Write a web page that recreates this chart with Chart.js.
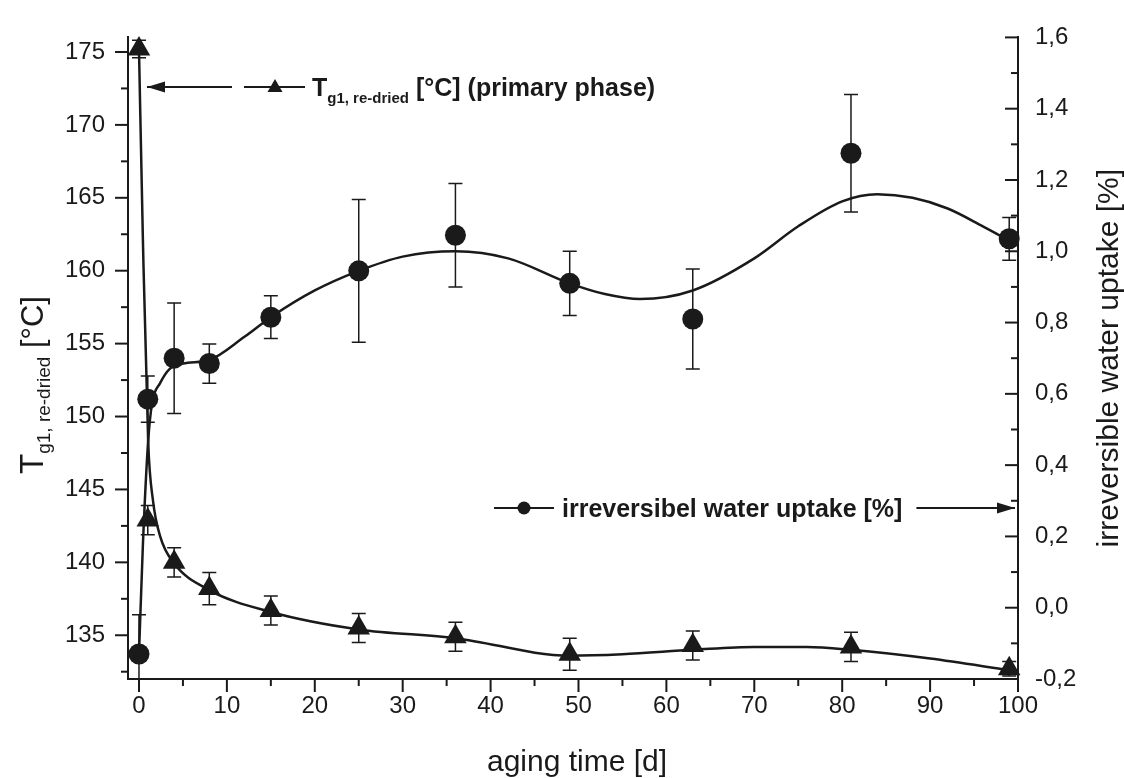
<!DOCTYPE html>
<html>
<head>
<meta charset="utf-8">
<script src="https://cdn.jsdelivr.net/npm/chart.js@4.4.1/dist/chart.umd.min.js"></script>
<style>
  html, body { margin: 0; background: #fff; }
  #wrap { width: 1124px; height: 778px; }
</style>
</head>
<body>
<div id="wrap"><canvas id="chart" width="1124" height="778"></canvas></div>
<script>
// measured points
const days = [0, 1, 4, 8, 15, 25, 36, 49, 63, 81, 99];
const tgValues = [175.2, 142.9, 140.0, 138.2, 136.7, 135.5, 134.9, 133.7, 134.3, 134.2, 132.7];
const tgErrors = [0.6, 1.0, 1.0, 1.1, 1.0, 1.0, 1.0, 1.1, 1.0, 1.0, 0.5];
const waterValues = [-0.13, 0.585, 0.70, 0.685, 0.815, 0.945, 1.045, 0.91, 0.81, 1.275, 1.035];
const waterErrors = [0.11, 0.065, 0.155, 0.055, 0.06, 0.2, 0.145, 0.09, 0.14, 0.165, 0.06];

// smoothed fit curves
const tgFitDays = [0, 0.45, 1.05, 1.6, 2.4, 3.9, 8, 15, 25, 36, 49, 55, 63, 70, 76, 81, 90, 99];
const tgFitValues = [175.2, 162, 148.2, 144.2, 141.8, 140.0, 138.1, 136.6, 135.4, 134.8, 133.6, 133.7, 134.0, 134.2, 134.2, 134.0, 133.4, 132.6];
const waterFitDays = [0, 0.45, 1.05, 1.5, 2.4, 3.5, 5, 8, 12, 15, 20, 25, 30, 36, 42, 49, 53, 57, 63, 70, 75, 80, 84, 88, 92, 96, 99];
const waterFitValues = [-0.13, 0.18, 0.47, 0.575, 0.63, 0.67, 0.685, 0.695, 0.76, 0.815, 0.89, 0.945, 0.985, 1.0, 0.98, 0.91, 0.88, 0.866, 0.89, 0.98, 1.07, 1.14, 1.16, 1.15, 1.12, 1.07, 1.03];

// axis ticks
const dayTicks = [0, 10, 20, 30, 40, 50, 60, 70, 80, 90, 100];
const tgTicks = [135, 140, 145, 150, 155, 160, 165, 170, 175];
const waterTicks = [-0.2, 0, 0.2, 0.4, 0.6, 0.8, 1.0, 1.2, 1.4, 1.6];

const INK = '#1a1a1a';
const FONT = '"Liberation Sans", Arial, Helvetica, sans-serif';

const pts = (xs, ys) => xs.map((x, i) => ({ x, y: ys[i] }));
const mids = arr => arr.slice(1).map((v, i) => (v + arr[i]) / 2);

function drawArrow(ctx, x1, y, x2) {
  ctx.beginPath();
  ctx.moveTo(x1, y);
  ctx.lineTo(x2, y);
  ctx.stroke();
  const d = Math.sign(x2 - x1);
  ctx.beginPath();
  ctx.moveTo(x2, y);
  ctx.lineTo(x2 - d * 18, y - 5.5);
  ctx.lineTo(x2 - d * 18, y + 5.5);
  ctx.closePath();
  ctx.fill();
}

function richWidth(ctx, parts) {
  return parts.reduce((w, p) => { ctx.font = p.font; return w + ctx.measureText(p.t).width; }, 0);
}

function drawRich(ctx, parts, x, y) {
  parts.forEach(p => {
    ctx.font = p.font;
    ctx.fillText(p.t, x, y + (p.dy || 0));
    x += ctx.measureText(p.t).width;
  });
  return x;
}

const errorBars = {
  id: 'errorBars',
  beforeDatasetsDraw(chart) {
    const { ctx, chartArea, scales } = chart;
    ctx.save();
    ctx.beginPath();
    ctx.rect(chartArea.left, chartArea.top, chartArea.width, chartArea.height);
    ctx.clip();
    ctx.strokeStyle = INK;
    ctx.lineWidth = 1.5;
    chart.data.datasets.forEach(ds => {
      if (!ds.err) return;
      const ys = scales[ds.yAxisID];
      ds.data.forEach((p, i) => {
        const x = scales.x.getPixelForValue(p.x);
        const y1 = ys.getPixelForValue(p.y - ds.err[i]);
        const y2 = ys.getPixelForValue(p.y + ds.err[i]);
        ctx.beginPath();
        ctx.moveTo(x, y1); ctx.lineTo(x, y2);
        ctx.moveTo(x - 7, y1); ctx.lineTo(x + 7, y1);
        ctx.moveTo(x - 7, y2); ctx.lineTo(x + 7, y2);
        ctx.stroke();
      });
    });
    ctx.restore();
  }
};

const decorations = {
  id: 'decorations',
  afterDraw(chart) {
    const { ctx, chartArea, scales } = chart;
    const { x: xs, yL, yR } = scales;
    ctx.save();
    ctx.strokeStyle = INK;
    ctx.fillStyle = INK;
    ctx.lineWidth = 2;

    // tick marks: major 13px, minor 7px
    const tick = (vals, len, fn) => vals.forEach(v => { ctx.beginPath(); fn(v, len); ctx.stroke(); });
    const bottomTick = (v, len) => { const p = xs.getPixelForValue(v); ctx.moveTo(p, chartArea.bottom); ctx.lineTo(p, chartArea.bottom + len); };
    const leftTick = (v, len) => { const p = yL.getPixelForValue(v); ctx.moveTo(chartArea.left, p); ctx.lineTo(chartArea.left - len, p); };
    const rightTick = (v, len) => { const p = yR.getPixelForValue(v); ctx.moveTo(chartArea.right, p); ctx.lineTo(chartArea.right - len, p); };
    tick(dayTicks, 13, bottomTick);
    tick(mids(dayTicks), 7, bottomTick);
    tick(tgTicks, 13, leftTick);
    tick([132.5].concat(mids(tgTicks)), 7, leftTick);
    tick(waterTicks, 13, rightTick);
    tick(mids(waterTicks), 7, rightTick);

    // axis titles
    ctx.textBaseline = 'alphabetic';
    ctx.textAlign = 'left';
    ctx.font = '30px ' + FONT;
    const xt = 'aging time [d]';
    ctx.fillText(xt, (chartArea.left + chartArea.right) / 2 - ctx.measureText(xt).width / 2 + 4, 771);

    const leftTitle = [
      { t: 'T', font: '33px ' + FONT },
      { t: 'g1, re-dried', font: '19px ' + FONT, dy: 7 },
      { t: ' [°C]', font: '31px ' + FONT }
    ];
    ctx.save();
    ctx.translate(43, 385);
    ctx.rotate(-Math.PI / 2);
    drawRich(ctx, leftTitle, -richWidth(ctx, leftTitle) / 2, 0);
    ctx.restore();

    ctx.save();
    ctx.translate(1118, (chartArea.top + chartArea.bottom) / 2);
    ctx.rotate(-Math.PI / 2);
    ctx.font = '30px ' + FONT;
    ctx.textAlign = 'center';
    ctx.fillText('irreversible water uptake [%]', 0, 0);
    ctx.restore();

    // legend 1 (Tg, pointing to left axis)
    ctx.lineWidth = 2;
    drawArrow(ctx, 232, 87, 147);
    ctx.beginPath(); ctx.moveTo(244, 87); ctx.lineTo(305, 87); ctx.stroke();
    ctx.beginPath();
    ctx.moveTo(275, 79); ctx.lineTo(282.5, 92); ctx.lineTo(267.5, 92); ctx.closePath(); ctx.fill();
    drawRich(ctx, [
      { t: 'T', font: 'bold 25px ' + FONT },
      { t: 'g1, re-dried', font: 'bold 15px ' + FONT, dy: 7 },
      { t: ' [°C] (primary phase)', font: 'bold 25px ' + FONT }
    ], 312, 96);

    // legend 2 (water uptake, pointing to right axis)
    ctx.beginPath(); ctx.moveTo(494, 508); ctx.lineTo(554, 508); ctx.stroke();
    ctx.beginPath(); ctx.arc(524, 508, 6.5, 0, Math.PI * 2); ctx.fill();
    const endX = drawRich(ctx, [{ t: 'irreversibel water uptake [%]', font: 'bold 25px ' + FONT }], 562, 517);
    drawArrow(ctx, endX + 14, 508, chartArea.right - 3);
    ctx.restore();
  }
};

const tickFont = { family: FONT, size: 24 };

new Chart(document.getElementById('chart'), {
  type: 'scatter',
  data: {
    datasets: [
      {
        type: 'line', data: pts(tgFitDays, tgFitValues), yAxisID: 'yL',
        borderColor: INK, borderWidth: 2.5, pointRadius: 0, fill: false,
        cubicInterpolationMode: 'monotone', order: 2
      },
      {
        type: 'line', data: pts(waterFitDays, waterFitValues), yAxisID: 'yR',
        borderColor: INK, borderWidth: 2.5, pointRadius: 0, fill: false,
        cubicInterpolationMode: 'monotone', order: 2
      },
      {
        data: pts(days, tgValues), err: tgErrors, yAxisID: 'yL',
        pointStyle: 'triangle', pointRadius: 13, backgroundColor: INK, borderColor: INK,
        borderWidth: 0, clip: false, order: 0
      },
      {
        data: pts(days, waterValues), err: waterErrors, yAxisID: 'yR',
        pointStyle: 'circle', pointRadius: 10.5, backgroundColor: INK, borderColor: INK,
        borderWidth: 0, clip: false, order: 0
      }
    ]
  },
  options: {
    responsive: false,
    animation: false,
    layout: { padding: { top: 23, left: 0, right: 0, bottom: 0 } },
    plugins: { legend: { display: false }, tooltip: { enabled: false } },
    scales: {
      x: {
        type: 'linear', min: -1.25, max: 100,
        afterBuildTicks: s => { s.ticks = dayTicks.map(v => ({ value: v })); },
        afterFit: s => { s.height = 99; },
        grid: { display: false, drawTicks: false },
        border: { display: true, color: INK, width: 2 },
        ticks: { padding: 13, font: tickFont, color: INK, maxRotation: 0 }
      },
      yL: {
        position: 'left', min: 132, max: 176,
        afterBuildTicks: s => { s.ticks = tgTicks.map(v => ({ value: v })); },
        afterFit: s => { s.width = 128; },
        grid: { display: false, drawTicks: false },
        border: { display: true, color: INK, width: 2 },
        ticks: { padding: 23, font: tickFont, color: INK }
      },
      yR: {
        position: 'right', min: -0.2, max: 1.6,
        afterBuildTicks: s => { s.ticks = waterTicks.map(v => ({ value: v })); },
        afterFit: s => { s.width = 106; },
        grid: { display: false, drawTicks: false },
        border: { display: true, color: INK, width: 2 },
        ticks: { padding: 17, font: tickFont, color: INK, callback: v => v.toFixed(1).replace('.', ',') }
      }
    }
  },
  plugins: [errorBars, decorations]
});
</script>
</body>
</html>
